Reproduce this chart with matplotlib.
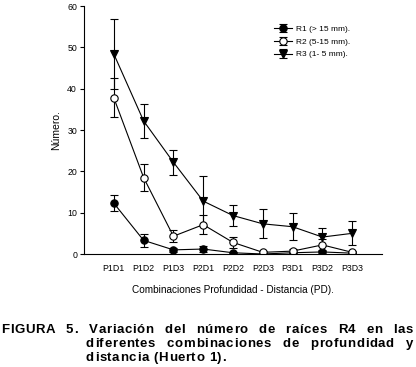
import matplotlib as mpl
mpl.use("Agg")
import matplotlib.pyplot as plt
from matplotlib.font_manager import FontProperties
from matplotlib.transforms import IdentityTransform

# Data
categories = ["P1D1", "P1D2", "P1D3", "P2D1", "P2D2", "P2D3", "P3D1", "P3D2", "P3D3"]
r1 = [12.3, 3.3, 1.0, 1.2, 0.3, 0.0, 0.3, 0.5, 0.2]
r1_err = [2.0, 1.6, 0.5, 0.8, 0.3, 0.2, 0.3, 0.5, 0.2]
r2 = [37.8, 18.5, 4.3, 7.1, 2.8, 0.4, 0.7, 2.2, 0.4]
r2_err = [4.7, 3.2, 1.4, 2.3, 1.3, 0.3, 0.6, 1.5, 0.3]
r3 = [48.4, 32.2, 22.2, 12.8, 9.3, 7.3, 6.6, 4.1, 5.0]
r3_err = [8.5, 4.2, 3.0, 6.0, 2.5, 3.5, 3.3, 2.1, 2.9]
labels = ["R1 (> 15 mm).", "R2 (5-15 mm).", "R3 (1- 5 mm)."]
y_ticks = [0, 10, 20, 30, 40, 50, 60]

caption = [
    "FIGURA 5. Variación del número de raíces R4 en las",
    "diferentes combinaciones de profundidad y",
    "distancia (Huerto 1).",
]

W, H, DPI = 416, 367, 100

mpl.rcParams.update({
    "font.family": ["Liberation Sans", "DejaVu Sans"],
    "font.size": 6.3,
    "axes.linewidth": 0.8,
    "axes.spines.top": False,
    "axes.spines.right": False,
    "ytick.major.width": 0.8,
    "ytick.major.size": 3,
    "xtick.major.size": 0,
})

fig = plt.figure(figsize=(W / DPI, H / DPI), dpi=DPI)
ax = fig.add_axes([84 / W, 1 - 254 / H, (382 - 84) / W, (254 - 6) / H])

x = list(range(1, len(categories) + 1))
common = dict(color="black", lw=0.8, ms=5.3, capsize=3, elinewidth=0.8,
              capthick=0.8, markeredgecolor="black", markeredgewidth=0.8)
ax.errorbar(x, r1, yerr=r1_err, fmt="-o", mfc="black", label=labels[0], **common)
ax.errorbar(x, r2, yerr=r2_err, fmt="-o", mfc="white", label=labels[1], **common)
ax.errorbar(x, r3, yerr=r3_err, fmt="-v", mfc="black", label=labels[2], **common)

ax.set_xlim(0, 10)
ax.set_ylim(0, 60)
ax.set_yticks(y_ticks)
ax.set_xticks(x)
ax.set_xticklabels(categories)
ax.tick_params(axis="x", length=0, pad=7)
ax.tick_params(axis="y", pad=2)
ax.set_ylabel("Número.", fontsize=7.5, labelpad=4)
ax.set_xlabel("Combinaciones Profundidad - Distancia (PD).", fontsize=7.2, labelpad=9)

ax.legend(loc="upper left", bbox_to_anchor=(274 / W, 1 - 25 / H),
          bbox_transform=fig.transFigure, frameon=False, fontsize=6,
          handlelength=2.2, handletextpad=0.4, labelspacing=0.6,
          borderpad=0, borderaxespad=0, numpoints=1)

# Caption: letter-spaced bold text, justified by widening the word gaps
cap_fp = FontProperties(family="Liberation Sans", weight="bold", size=9.5)
renderer = fig.canvas.get_renderer()


def char_widths(text):
    return [renderer.get_text_width_height_descent(c, cap_fp, ismath=False)[0]
            for c in text]


def tracked_line(text, x0, y, tracking, x1=None):
    widths = char_widths(text)
    extra = 0.0
    if x1 is not None:
        natural = sum(widths) + tracking * (len(text) - 1)
        extra = (x1 - x0 - natural) / max(text.count(" "), 1)
    pos = x0
    for c, w in zip(text, widths):
        fig.text(pos, y, c, fontproperties=cap_fp, transform=IdentityTransform(),
                 va="baseline", ha="left")
        pos += w + tracking + (extra if c == " " else 0.0)


# letter spacing taken from the last (unjustified) line: 86 px -> 226 px
w3 = char_widths(caption[2])
track = (226 - 86 - sum(w3)) / (len(caption[2]) - 1)

tracked_line(caption[0], 1, H - 333, track, 413)
tracked_line(caption[1], 86, H - 347, track, 413)
tracked_line(caption[2], 86, H - 361, track)

fig.savefig("out.png", dpi=DPI)
